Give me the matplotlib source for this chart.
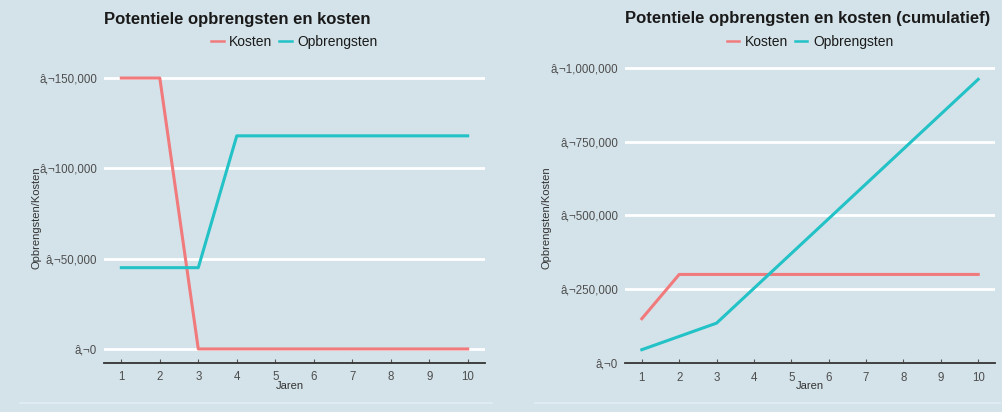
import matplotlib
matplotlib.use("Agg")
import matplotlib.pyplot as plt
from matplotlib.lines import Line2D

plt.rcParams['font.family'] = ['Liberation Sans', 'DejaVu Sans']

# data
jaren = [1, 2, 3, 4, 5, 6, 7, 8, 9, 10]
kosten = [150000, 150000, 0, 0, 0, 0, 0, 0, 0, 0]
opbrengsten = [45000, 45000, 45000, 118000, 118000, 118000, 118000, 118000, 118000, 118000]
kosten_cum = [150000, 300000, 300000, 300000, 300000, 300000, 300000, 300000, 300000, 300000]
opbrengsten_cum = [45000, 90000, 135000, 253000, 371000, 489000, 607000, 725000, 843000, 961000]

ticks_left = [0, 50000, 100000, 150000]
ticks_right = [0, 250000, 500000, 750000, 1000000]

bg = "#d4e3ea"
red = "#f07a7c"
cyan = "#22c2c6"

fig = plt.figure(figsize=(10.02, 4.12), dpi=100)
fig.patch.set_facecolor(bg)

W, H = 1002.0, 412.0


def make_axes(x0, x1, ytop, ybot):
    return fig.add_axes([x0 / W, 1 - ybot / H, (x1 - x0) / W, (ybot - ytop) / H])


def style_axes(ax, yticks, title, xlab_x, ylab_x, ylab_y):
    ax.set_facecolor(bg)
    for s in ["top", "right", "left"]:
        ax.spines[s].set_visible(False)
    ax.spines["bottom"].set_color("#333333")
    ax.spines["bottom"].set_linewidth(1.3)
    ax.set_xlim(0.55, 10.45)
    ax.set_xticks(jaren)
    ax.set_yticks(yticks)
    ax.set_yticklabels(["â‚¬{:,}".format(v) for v in yticks])
    ax.tick_params(axis="y", length=0, pad=5, labelsize=8.3, labelcolor="#4d4d4d")
    ax.tick_params(axis="x", direction="in", length=3, width=0.8, color="#555555",
                   pad=6, labelsize=8.3, labelcolor="#4d4d4d")
    ax.yaxis.grid(True, color="white", linewidth=2)
    ax.set_axisbelow(True)
    ax.text(0, 1.152, title, transform=ax.transAxes, ha="left", va="center",
            fontsize=12, fontweight="bold", color="#1a1a1a")
    fig.text(xlab_x / W, 1 - 386 / H, "Jaren", ha="center", va="center",
             fontsize=8, color="#333333")
    fig.text(ylab_x / W, 1 - ylab_y / H, "Opbrengsten/Kosten", rotation=90,
             ha="center", va="center", fontsize=8, color="#333333")
    leg = ax.legend(loc="center", bbox_to_anchor=(0.5, 1.075), ncol=2, frameon=False,
                    fontsize=10, handlelength=0.9, handletextpad=0.4, columnspacing=0.5)
    for line in leg.get_lines():
        line.set_linewidth(1.8)
    for t in leg.get_texts():
        t.set_color("#1a1a1a")


# left panel
ax1 = make_axes(104, 485, 64.5, 362.5)
ax1.plot(jaren, kosten, color=red, linewidth=2.2, label="Kosten")
ax1.plot(jaren, opbrengsten, color=cyan, linewidth=2.2, label="Opbrengsten")
ax1.set_ylim(-7500, 157500)
style_axes(ax1, ticks_left, "Potentiele opbrengsten en kosten", 290, 37, 218)

# right panel
ax2 = make_axes(625, 995, 64, 363.3)
ax2.plot(jaren, kosten_cum, color=red, linewidth=2.2, label="Kosten")
ax2.plot(jaren, opbrengsten_cum, color=cyan, linewidth=2.2, label="Opbrengsten")
ax2.set_ylim(-1100, 1013000)
style_axes(ax2, ticks_right, "Potentiele opbrengsten en kosten (cumulatief)", 810, 546, 218)

# faint panel borders
for xa, xb in [(20, 492), (535, 1000)]:
    fig.add_artist(Line2D([xa / W, xb / W], [1 - 403 / H, 1 - 403 / H],
                          color="#e2edf2", linewidth=1.2))

fig.savefig("out.png", dpi=100, facecolor=bg)
